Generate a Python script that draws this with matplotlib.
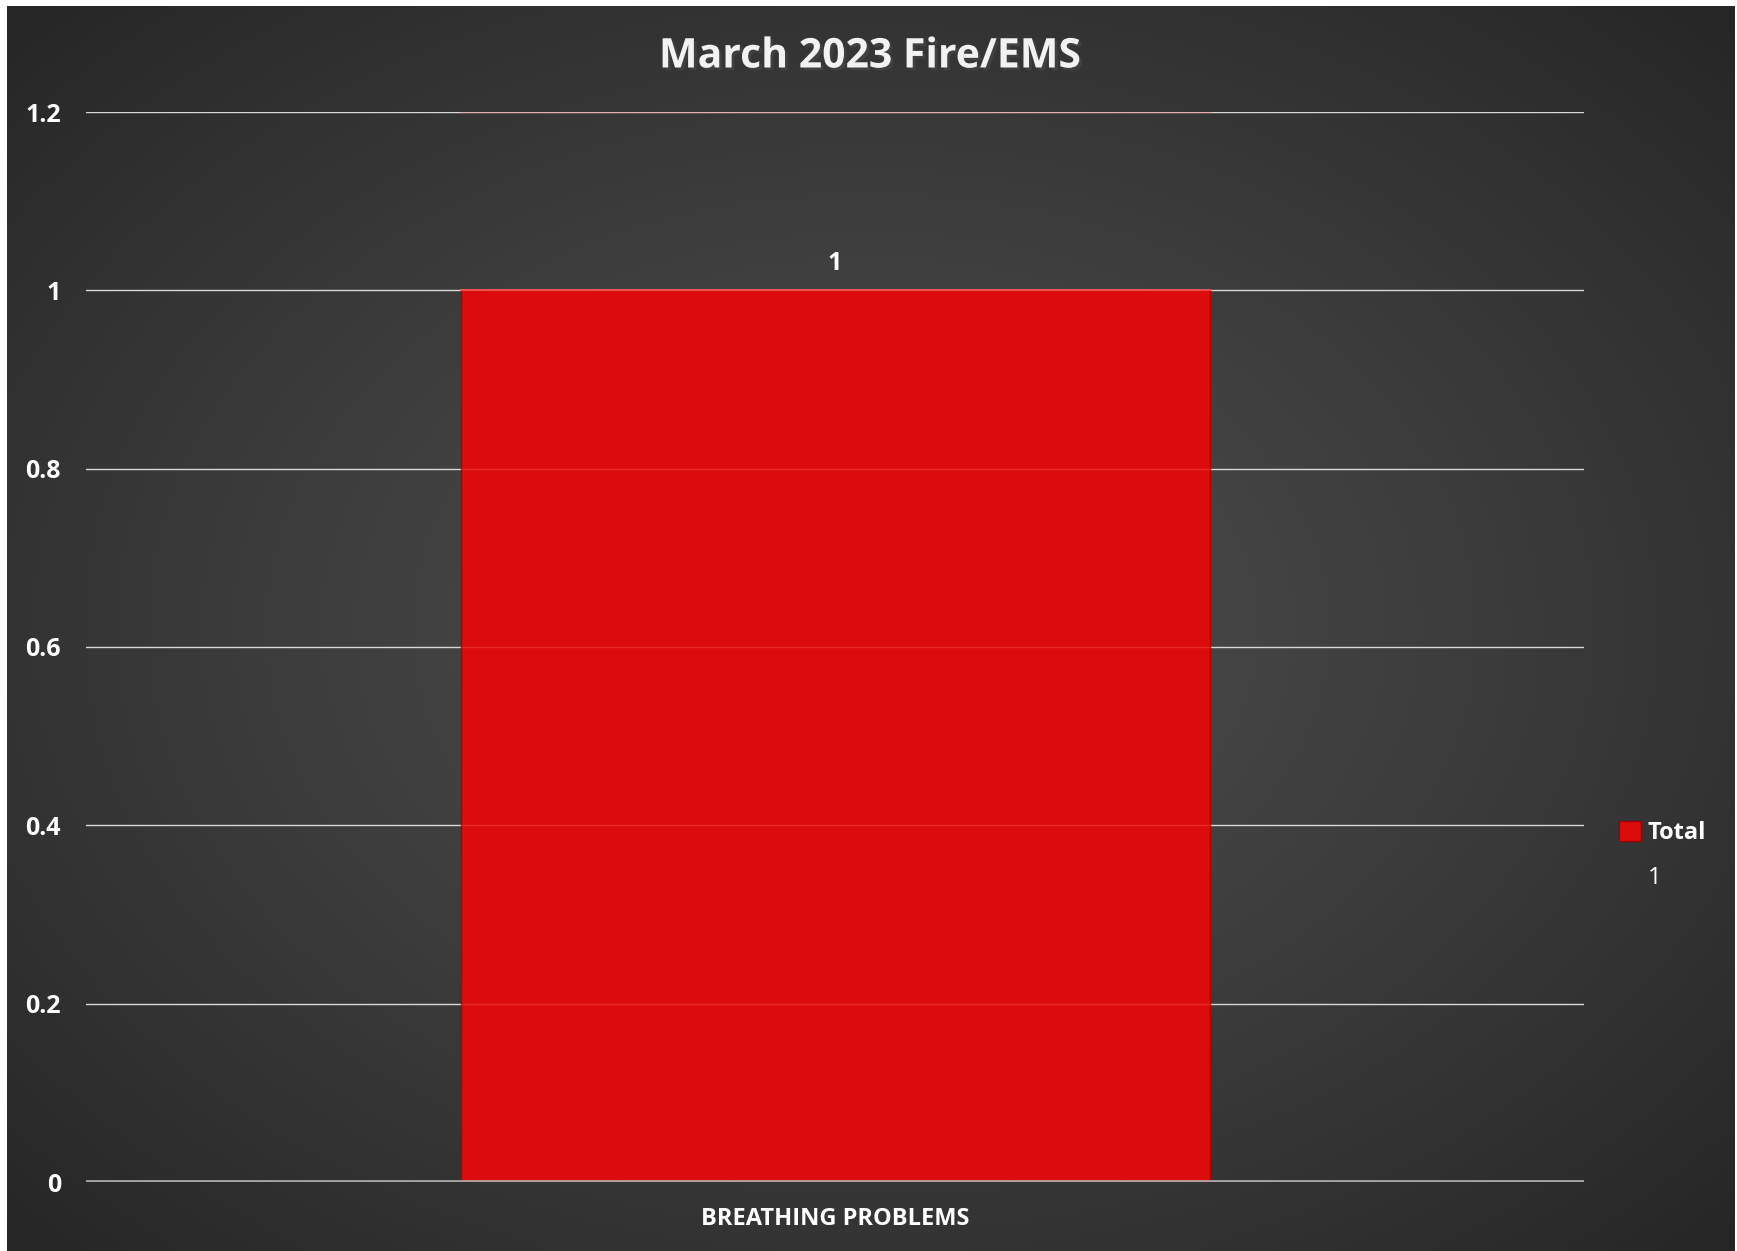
import matplotlib
matplotlib.use("Agg")
import matplotlib.pyplot as plt
import matplotlib.patheffects as pe
from matplotlib.patches import Patch
import numpy as np

categories = ["BREATHING PROBLEMS"]
totals = [1]
yticks = [0, 0.2, 0.4, 0.6, 0.8, 1, 1.2]
ytick_labels = ["0", "0.2", "0.4", "0.6", "0.8", "1", "1.2"]
title = "March 2023 Fire/EMS"
series_name = "Total"
extra_legend = "1"

plt.rcParams['font.family'] = ['Open Sans', 'DejaVu Sans']

W, H = 1737, 1251
fig = plt.figure(figsize=(W / 100, H / 100), dpi=100, facecolor="white")

# dark radial gradient background (chart area)
bg = fig.add_axes([7 / W, 0, (1735 - 7) / W, (H - 6) / H])
bg.set_axis_off()
gx, gy = np.meshgrid(np.linspace(-1, 1, 400), np.linspace(-1, 1, 300))
r = np.clip(np.sqrt(gx ** 2 + gy ** 2) / 1.41, 0, 1) ** 1.2
shade = 0x4d / 255 * (1 - r) + 0x26 / 255 * r
bg.imshow(np.dstack([shade, shade, shade]), aspect="auto", extent=[0, 1, 0, 1],
          interpolation="bilinear")
bg.set_xlim(0, 1)
bg.set_ylim(0, 1)

ax = fig.add_axes([86 / W, 1 - 1182 / H, (1584 - 86) / W, (1182 - 112) / H])
ax.set_facecolor("none")
x = np.arange(len(categories))
bars = ax.bar(x, totals, width=0.5, color="#dc0c0c", edgecolor="#b00000",
              linewidth=1.0, zorder=2)
ax.set_xlim(-0.5, 0.5)
ax.set_ylim(0, 1.2)
ax.set_yticks(yticks)
ax.set_yticklabels(ytick_labels, fontweight="bold")
ax.set_xticks(x)
ax.set_xticklabels(categories, fontweight="bold")
ax.tick_params(axis="y", length=0, pad=18, labelsize=18, labelcolor="white")
ax.tick_params(axis="x", length=0, pad=18, labelsize=17, labelcolor="white")

# gridlines (faintly visible through the bar)
for v in yticks[1:]:
    ax.axhline(v, color="#d9d9d9", linewidth=1.0, zorder=1)
    ax.axhline(v, color="#ff6060", linewidth=1.0, alpha=0.35, zorder=3,
               xmin=0.25, xmax=0.75)
ax.axhline(0, color="#b0b0b0", linewidth=3.5, alpha=0.9, zorder=4)
ax.axhline(totals[0], color="#ff5a5a", linewidth=1.5, alpha=0.8, zorder=3,
           xmin=0.25, xmax=0.75)
for s in ax.spines.values():
    s.set_visible(False)

ax.bar_label(bars, labels=[str(v) for v in totals], padding=10, color="white",
             fontsize=18, fontweight="bold")

fig.text(870 / W, 1 - 57 / H, title, ha="center", va="center", color="#f2f2f2",
         fontsize=29.5, fontweight="bold",
         path_effects=[pe.withSimplePatchShadow(offset=(2, -2), alpha=0.6)])

handles = [Patch(facecolor="#dc0c0c", edgecolor="#a00000"),
           Patch(facecolor="none", edgecolor="none")]
leg = fig.legend(handles, [series_name, extra_legend], loc="upper left",
                 bbox_to_anchor=(1598 / W, 1 - 800 / H), frameon=False,
                 fontsize=17, labelcolor="white", handlelength=0.9,
                 handleheight=0.9, handletextpad=0.3, labelspacing=0.9)
leg.get_texts()[0].set_fontweight("bold")

fig.savefig("out.png", dpi=100, facecolor="white")
